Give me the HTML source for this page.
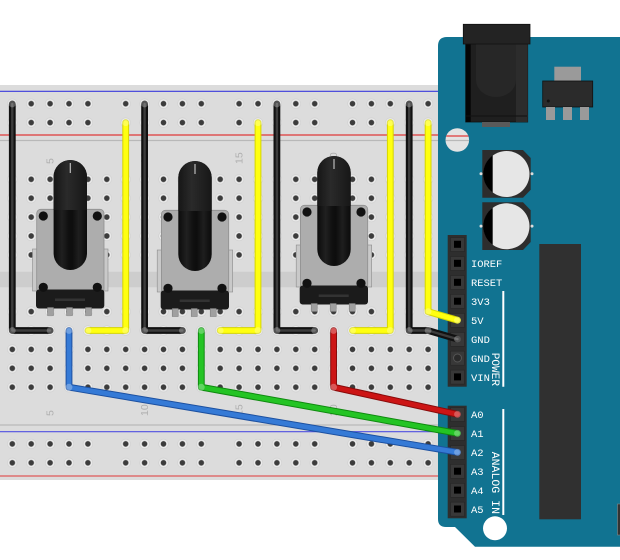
<!DOCTYPE html>
<html><head><meta charset="utf-8"><style>
html,body{margin:0;padding:0;background:#fff;width:620px;height:560px;overflow:hidden}
svg{display:block}
</style></head><body>
<svg width="620" height="560" viewBox="0 0 620 560" xmlns="http://www.w3.org/2000/svg">
<defs>
<pattern id="holes" patternUnits="userSpaceOnUse" x="2.85" y="169.85" width="18.9" height="18.9">
<circle cx="9.45" cy="9.45" r="4.8" fill="#ebebeb" stroke="#cdcdcd" stroke-width="0.6"/>
<circle cx="9.45" cy="9.45" r="2.8" fill="#3c3c3c"/>
</pattern>
<linearGradient id="kg" x1="0" y1="0" x2="1" y2="0">
<stop offset="0" stop-color="#0b0b0b"/><stop offset="0.25" stop-color="#202020"/><stop offset="0.45" stop-color="#101010"/><stop offset="0.55" stop-color="#0d0d0d"/><stop offset="0.75" stop-color="#1e1e1e"/><stop offset="1" stop-color="#0b0b0b"/>
</linearGradient>
<linearGradient id="kr" x1="0" y1="0" x2="1" y2="0">
<stop offset="0" stop-color="#161616"/><stop offset="0.4" stop-color="#2a2a2a"/><stop offset="1" stop-color="#171717"/>
</linearGradient>
<clipPath id="mh"><circle cx="457.3" cy="140" r="11.8"/></clipPath>
<g id="pot">
<rect x="32.5" y="249" width="5" height="42" fill="#c9c9c9" stroke="#8c8c8c" stroke-width="0.6"/>
<rect x="103" y="249" width="5" height="42" fill="#c9c9c9" stroke="#8c8c8c" stroke-width="0.6"/>
<rect x="36.7" y="209.3" width="67.3" height="84" rx="4" fill="#adadad" stroke="#8f8f8f" stroke-width="0.8"/>
<rect x="36" y="289.5" width="68.3" height="19" rx="3" fill="#1b1b1b"/>
<rect x="55" y="298.5" width="30" height="2.5" fill="#333"/>
<rect x="47.5" y="307.5" width="6" height="8" fill="#a0a0a0" stroke="#777" stroke-width="0.5"/>
<rect x="66.5" y="307.5" width="6" height="8" fill="#a0a0a0" stroke="#777" stroke-width="0.5"/>
<rect x="85.5" y="307.5" width="6" height="8" fill="#a0a0a0" stroke="#777" stroke-width="0.5"/>
<circle cx="43.3" cy="216" r="4.6" fill="#111"/>
<circle cx="97.3" cy="216" r="4.6" fill="#111"/>
<circle cx="43.3" cy="287.3" r="4.6" fill="#111"/>
<circle cx="97.3" cy="287.3" r="4.6" fill="#111"/>
<rect x="53.6" y="160" width="33.4" height="110" rx="16.7" fill="url(#kg)"/>
<path d="M53.6,176.7 A16.7,16.7 0 0 1 87,176.7 L87,210 L53.6,210 Z" fill="url(#kr)"/>
<line x1="70.3" y1="163" x2="70.3" y2="173" stroke="#bbb" stroke-width="1.2"/>
</g>
</defs>

<!-- Breadboard -->
<rect x="0" y="85" width="460" height="395" fill="#dcdcdc"/>
<rect x="0" y="271.7" width="460" height="15.6" fill="#cdcdcd"/>
<line x1="0" y1="91.3" x2="460" y2="91.3" stroke="#3b3bdc" stroke-width="1.2"/>
<line x1="0" y1="135" x2="460" y2="135" stroke="#e03a3a" stroke-width="1.2"/>
<line x1="0" y1="140.5" x2="460" y2="140.5" stroke="#b8b8b8" stroke-width="1.2"/>
<line x1="0" y1="425" x2="460" y2="425" stroke="#b8b8b8" stroke-width="1.2"/>
<line x1="0" y1="431.7" x2="460" y2="431.7" stroke="#5050e0" stroke-width="1.2"/>
<line x1="0" y1="476" x2="460" y2="476" stroke="#e05a5a" stroke-width="1.2"/>

<rect x="2.85" y="169.85" width="434.7" height="94.5" fill="url(#holes)"/>
<rect x="2.85" y="302.15" width="434.7" height="94.5" fill="url(#holes)"/>
<rect x="2.85" y="94.25" width="94.5" height="37.8" fill="url(#holes)"/>
<rect x="116.25" y="94.25" width="94.5" height="37.8" fill="url(#holes)"/>
<rect x="229.65" y="94.25" width="94.5" height="37.8" fill="url(#holes)"/>
<rect x="343.05" y="94.25" width="94.5" height="37.8" fill="url(#holes)"/>
<rect x="2.85" y="434.45" width="94.5" height="37.8" fill="url(#holes)"/>
<rect x="116.25" y="434.45" width="94.5" height="37.8" fill="url(#holes)"/>
<rect x="229.65" y="434.45" width="94.5" height="37.8" fill="url(#holes)"/>
<rect x="343.05" y="434.45" width="94.5" height="37.8" fill="url(#holes)"/>

<g font-family="Liberation Sans, sans-serif" font-size="10.5" fill="#b0b0b0">
<text transform="translate(53.6,164) rotate(-90)">5</text>
<text transform="translate(148.1,164) rotate(-90)">10</text>
<text transform="translate(242.6,164) rotate(-90)">15</text>
<text transform="translate(337.1,164) rotate(-90)">20</text>
<text transform="translate(53.6,416) rotate(-90)">5</text>
<text transform="translate(148.1,416) rotate(-90)">10</text>
<text transform="translate(242.6,416) rotate(-90)">15</text>
<text transform="translate(337.1,416) rotate(-90)">20</text>
</g>

<!-- Potentiometers -->
<use href="#pot"/>
<use href="#pot" transform="translate(124.7,1)"/>
<use href="#pot" transform="translate(263.7,-4)"/>

<!-- Arduino -->
<path d="M447,37 L625,37 L625,546.7 L475,546.7 L455,527 L446,527 Q438,527 438,519 L438,46 Q438,37 447,37 Z" fill="#117391"/>
<!-- jack -->
<rect x="465.7" y="44" width="62" height="78" fill="#1f1f1f" stroke="#111" stroke-width="0.8"/>
<rect x="465.7" y="44" width="5" height="78" fill="#050505"/>
<rect x="516" y="44" width="11.7" height="78" fill="#2c2c2c"/>
<path d="M476,44 L516,44 L516,80 A20,17 0 0 1 476,80 Z" fill="#272727"/>
<line x1="466" y1="116" x2="527" y2="116" stroke="#111" stroke-width="1"/>
<rect x="463.3" y="24.3" width="66.7" height="19.7" fill="#232323" stroke="#111" stroke-width="0.8"/>
<rect x="482" y="122" width="28" height="5" fill="#5a5a5a"/>
<!-- regulator -->
<rect x="554.3" y="66.7" width="26.7" height="14.3" fill="#9a9a9a"/>
<rect x="542.7" y="81" width="50" height="26" fill="#2b2b2b" stroke="#111" stroke-width="0.8"/>
<circle cx="548.3" cy="101" r="1.5" fill="#111"/>
<rect x="546" y="107" width="9" height="13" fill="#9a9a9a"/>
<rect x="563" y="107" width="9" height="13" fill="#9a9a9a"/>
<rect x="580" y="107" width="9" height="13" fill="#9a9a9a"/>
<!-- top mounting hole -->
<circle cx="457.3" cy="140" r="11.8" fill="#e3e3e3"/>
<g clip-path="url(#mh)">
<line x1="440" y1="136" x2="475" y2="136" stroke="#e03a3a" stroke-width="1.2"/>
<line x1="440" y1="140.5" x2="475" y2="140.5" stroke="#b8b8b8" stroke-width="1.2"/>
</g>
<!-- capacitors -->
<g>
<path d="M482.3,150 L523,150 L530.7,158 L530.7,189.7 L523,197.7 L482.3,197.7 Z" fill="#2d2d2d"/>
<circle cx="506.5" cy="174" r="23" fill="#e6e6e6"/>
<path d="M492.7,155.4 A23,23 0 0 0 492.7,192.6 Z" fill="#000"/>
<circle cx="481" cy="173.8" r="1.5" fill="#ddd"/>
<circle cx="532" cy="173.8" r="1.5" fill="#ddd"/>
</g>
<g transform="translate(0,52.3)">
<path d="M482.3,150 L523,150 L530.7,158 L530.7,189.7 L523,197.7 L482.3,197.7 Z" fill="#2d2d2d"/>
<circle cx="506.5" cy="174" r="23" fill="#e6e6e6"/>
<path d="M492.7,155.4 A23,23 0 0 0 492.7,192.6 Z" fill="#000"/>
<circle cx="481" cy="173.8" r="1.5" fill="#ddd"/>
<circle cx="532" cy="173.8" r="1.5" fill="#ddd"/>
</g>
<!-- big chip -->
<rect x="539.3" y="244" width="41.7" height="275.3" fill="#303030"/>
<rect x="617.5" y="504" width="5" height="31" fill="#333" stroke="#888" stroke-width="0.6"/>
<!-- bottom mounting hole -->
<circle cx="495" cy="528.3" r="12" fill="#fff"/>
<!-- headers -->
<rect x="447.7" y="235" width="19" height="151.7" fill="#2e2e2e"/>
<rect x="447.7" y="405.7" width="19" height="112.6" fill="#2e2e2e"/>
<g fill="#383838" stroke="#262626" stroke-width="0.6">
<rect x="450.5" y="237.5" width="14" height="14"/>
<rect x="450.5" y="256.5" width="14" height="14"/>
<rect x="450.5" y="275.5" width="14" height="14"/>
<rect x="450.5" y="294.4" width="14" height="14"/>
<rect x="450.5" y="313.4" width="14" height="14"/>
<rect x="450.5" y="332.3" width="14" height="14"/>
<rect x="450.5" y="351.2" width="14" height="14"/>
<rect x="450.5" y="370.1" width="14" height="14"/>
<rect x="450.5" y="407.5" width="14" height="14"/>
<rect x="450.5" y="426.5" width="14" height="14"/>
<rect x="450.5" y="445.5" width="14" height="14"/>
<rect x="450.5" y="464.4" width="14" height="14"/>
<rect x="450.5" y="483.3" width="14" height="14"/>
<rect x="450.5" y="502.2" width="14" height="14"/>
</g>
<g fill="#000">
<rect x="454" y="240.8" width="7" height="7"/>
<rect x="454" y="259.8" width="7" height="7"/>
<rect x="454" y="278.8" width="7" height="7"/>
<rect x="454" y="297.7" width="7" height="7"/>
<rect x="454" y="373.4" width="7" height="7"/>
<rect x="454" y="467.7" width="7" height="7"/>
<rect x="454" y="486.6" width="7" height="7"/>
<rect x="454" y="505.5" width="7" height="7"/>
</g>
<circle cx="457.5" cy="358" r="4" fill="#2a2a2a" stroke="#555" stroke-width="1"/>
<!-- labels -->
<g font-family="Liberation Mono, monospace" font-size="10.5" fill="#fff">
<text x="471" y="267" textLength="31.3" lengthAdjust="spacingAndGlyphs">IOREF</text>
<text x="471" y="286" textLength="31.3" lengthAdjust="spacingAndGlyphs">RESET</text>
<text x="471" y="305">3V3</text>
<text x="471" y="324">5V</text>
<text x="471" y="343">GND</text>
<text x="471" y="362">GND</text>
<text x="471" y="381">VIN</text>
<text x="471" y="418">A0</text>
<text x="471" y="437">A1</text>
<text x="471" y="456">A2</text>
<text x="471" y="475">A3</text>
<text x="471" y="494">A4</text>
<text x="471" y="513">A5</text>
</g>
<g font-family="Liberation Mono, monospace" font-size="11" fill="#fff">
<text transform="translate(492,352.7) rotate(90)" textLength="33.3" lengthAdjust="spacingAndGlyphs">POWER</text>
<text transform="translate(492,451.7) rotate(90)" textLength="62.3" lengthAdjust="spacingAndGlyphs">ANALOG IN</text>
</g>
<line x1="503.3" y1="291" x2="503.3" y2="386.7" stroke="#fff" stroke-width="2"/>
<line x1="503.3" y1="409" x2="503.3" y2="515" stroke="#fff" stroke-width="2"/>

<!-- Wires -->
<g fill="none" stroke-linecap="round" stroke-linejoin="round">
<g stroke="#111" stroke-width="6.8">
<path d="M12.3,104 L12.3,330.5 L50.1,330.5"/>
<path d="M144.6,104 L144.6,330.5 L182.4,330.5"/>
<path d="M276.9,104 L276.9,330.5 L314.7,330.5"/>
<path d="M409.2,104 L409.2,330.5 L428.1,330.5 L457.5,339.1"/>
</g>
<g stroke="#3c3c3c" stroke-width="2.4">
<path d="M12.3,104 L12.3,330.5 L50.1,330.5"/>
<path d="M144.6,104 L144.6,330.5 L182.4,330.5"/>
<path d="M276.9,104 L276.9,330.5 L314.7,330.5"/>
<path d="M409.2,104 L409.2,330.5 L428.1,330.5 L457.5,339.1"/>
</g>
<g stroke="#d6d600" stroke-width="6.8">
<path d="M125.7,122.7 L125.7,330.5 L88,330.5"/>
<path d="M258,122.7 L258,330.5 L220.2,330.5"/>
<path d="M390.3,122.7 L390.3,330.5 L352.5,330.5"/>
<path d="M428.1,122.7 L428.1,311.6 L457.5,320.2"/>
</g>
<g stroke="#ffff10" stroke-width="4.8">
<path d="M125.7,122.7 L125.7,330.5 L88,330.5"/>
<path d="M258,122.7 L258,330.5 L220.2,330.5"/>
<path d="M390.3,122.7 L390.3,330.5 L352.5,330.5"/>
<path d="M428.1,122.7 L428.1,311.6 L457.5,320.2"/>
</g>
<path d="M69,330.5 L69,387.2 L457.5,452.3" stroke="#1c50a0" stroke-width="6.8"/>
<path d="M69,330.5 L69,387.2 L457.5,452.3" stroke="#357ad6" stroke-width="4.8"/>
<path d="M201.3,330.5 L201.3,387.2 L457.5,433.3" stroke="#0f8a0f" stroke-width="6.8"/>
<path d="M201.3,330.5 L201.3,387.2 L457.5,433.3" stroke="#24c424" stroke-width="4.8"/>
<path d="M333.6,330.5 L333.6,387.2 L457.5,414.3" stroke="#880b0b" stroke-width="6.8"/>
<path d="M333.6,330.5 L333.6,387.2 L457.5,414.3" stroke="#cc1515" stroke-width="4.8"/>
</g>
<g fill="rgba(255,255,255,0.28)">
<circle cx="12.3" cy="104" r="3.4"/><circle cx="12.3" cy="330.5" r="3.4"/><circle cx="50.1" cy="330.5" r="3.4"/>
<circle cx="144.6" cy="104" r="3.4"/><circle cx="144.6" cy="330.5" r="3.4"/><circle cx="182.4" cy="330.5" r="3.4"/>
<circle cx="276.9" cy="104" r="3.4"/><circle cx="276.9" cy="330.5" r="3.4"/><circle cx="314.7" cy="330.5" r="3.4"/>
<circle cx="409.2" cy="104" r="3.4"/><circle cx="409.2" cy="330.5" r="3.4"/><circle cx="428.1" cy="330.5" r="3.4"/><circle cx="457.5" cy="339.1" r="3.4"/>
<circle cx="125.7" cy="122.7" r="3.4"/><circle cx="125.7" cy="330.5" r="3.4"/><circle cx="88" cy="330.5" r="3.4"/>
<circle cx="258" cy="122.7" r="3.4"/><circle cx="258" cy="330.5" r="3.4"/><circle cx="220.2" cy="330.5" r="3.4"/>
<circle cx="390.3" cy="122.7" r="3.4"/><circle cx="390.3" cy="330.5" r="3.4"/><circle cx="352.5" cy="330.5" r="3.4"/>
<circle cx="428.1" cy="122.7" r="3.4"/><circle cx="428.1" cy="311.6" r="3.4"/><circle cx="457.5" cy="320.2" r="3.4"/>
<circle cx="69" cy="330.5" r="3.4"/><circle cx="69" cy="387.2" r="3.4"/><circle cx="457.5" cy="452.3" r="3.4"/>
<circle cx="201.3" cy="330.5" r="3.4"/><circle cx="201.3" cy="387.2" r="3.4"/><circle cx="457.5" cy="433.3" r="3.4"/>
<circle cx="333.6" cy="330.5" r="3.4"/><circle cx="333.6" cy="387.2" r="3.4"/><circle cx="457.5" cy="414.3" r="3.4"/>
</g>
</svg>
</body></html>
